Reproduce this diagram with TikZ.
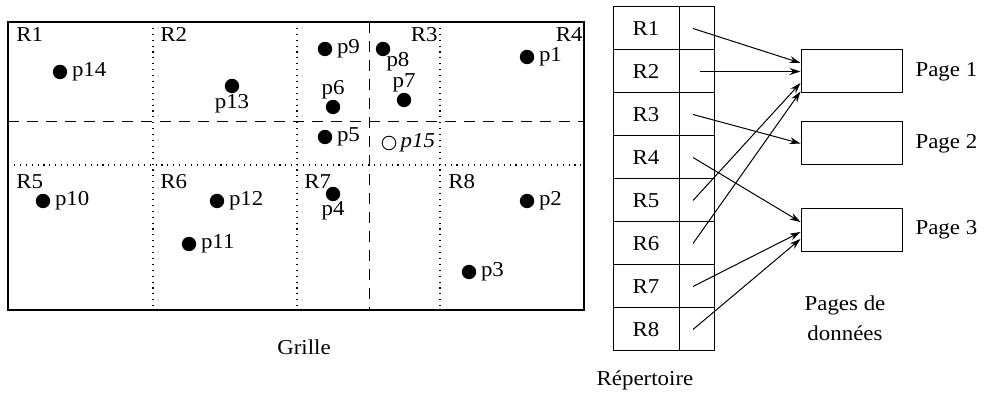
\documentclass[tikz,border=0pt]{standalone}
\usepackage{fontspec}
\setmainfont[FakeStretch=1.08]{Liberation Serif}
\usetikzlibrary{arrows.meta,positioning,calc}

\begin{document}
\begin{tikzpicture}[
    x=0.5pt, y=-0.5pt, >={Stealth[length=5.5pt,width=3.5pt]},
    font=\fontsize{10.6}{12}\selectfont,
    dot/.style={circle,fill,inner sep=0pt,minimum size=7.2pt},
    hollow/.style={circle,draw,line width=0.45pt,inner sep=0pt,minimum size=6.8pt},
    cell/.style={draw,line width=0.5pt,inner sep=0pt,outer sep=0pt,minimum height=21.5pt},
    page/.style={draw,line width=0.5pt,inner sep=0pt,minimum width=50.5pt,minimum height=21.5pt},
    dotline/.style={line width=0.55pt,dash pattern=on 0.55pt off 2.4pt},
    dashline/.style={line width=0.5pt,dash pattern=on 5.5pt off 4pt},
    ptr/.style={->,line width=0.5pt},
    every label/.style={inner sep=1pt},
    label distance=1pt
  ]
    \useasboundingbox (0,0) rectangle (984,394);

    % grille
    \draw[dotline] (8,165) -- (584,165);
    \foreach \gx in {153,297,440}
      \draw[dotline] (\gx,22) -- (\gx,310);
    \draw[dashline] (8,122) -- (584,122);
    \draw[dashline] (369,22) -- (369,310);
    \draw[line width=0.7pt] (8,22) rectangle (584,310);

    \node[anchor=base west,inner sep=0pt] (g1) at (16,42) {R1};
    \node[anchor=base west,inner sep=0pt] (g2) at (160,42) {R2};
    \node[anchor=base east,inner sep=0pt] (g3) at (438,42) {R3};
    \node[anchor=base east,inner sep=0pt] (g4) at (583,42) {R4};
    \node[anchor=base west,inner sep=0pt] (g5) at (16,189) {R5};
    \node[anchor=base west,inner sep=0pt] (g6) at (160,189) {R6};
    \node[anchor=base west,inner sep=0pt] (g7) at (304,189) {R7};
    \node[anchor=base west,inner sep=0pt] (g8) at (448,189) {R8};

    \node[dot,label=right:p1]  (p1)  at (527,57)  {};
    \node[dot,label=right:p2]  (p2)  at (527,201) {};
    \node[dot,label=right:p3]  (p3)  at (469,272) {};
    \node[dot,label={[label distance=-1pt]below:p4}] (p4) at (333,194) {};
    \node[dot,label=right:p5]  (p5)  at (325,137) {};
    \node[dot,label={[label distance=-1pt]above:p6}] (p6) at (333,107) {};
    \node[dot,label={[label distance=-1pt]above:p7}] (p7) at (404,100) {};
    \node[dot,label={[label distance=-3pt]below right:p8}] (p8) at (383,49) {};
    \node[dot,label=right:p9]  (p9)  at (325,49)  {};
    \node[dot,label=right:p10] (p10) at (43,201)  {};
    \node[dot,label=right:p11] (p11) at (189,244) {};
    \node[dot,label=right:p12] (p12) at (217,201) {};
    \node[dot,label={[label distance=-1pt]below:p13}] (p13) at (232,86) {};
    \node[dot,label=right:p14] (p14) at (60,72)   {};
    \node[hollow,label=right:\textit{p15}] (p15) at (389,143) {};

    \node (grille) at (304,347) {Grille};

    % repertoire
    \foreach \i in {1,...,8} {
      \node[cell,minimum width=33pt] (r\i) at (646,{7+43*(\i-0.5)}) {R\i};
      \node[cell,minimum width=17.5pt,right=0pt of r\i] (c\i) {};
    }
    \node (rep) at (645,380) {Répertoire};

    % pages
    \node[page] (pg1) at (851.5,71.5)  {};
    \node[page] (pg2) at (851.5,143.5) {};
    \node[page] (pg3) at (851.5,230)   {};
    \node[right=3pt of pg1] (t1) {Page 1};
    \node[right=3pt of pg2] (t2) {Page 2};
    \node[right=3pt of pg3] (t3) {Page 3};
    \node[align=center,font=\fontsize{10.6}{15}\selectfont] (donnees) at (845,318) {Pages de\\données};

    \draw[ptr] ([xshift=-1.75pt]c1.center) -- ($(pg1.west)+(0,-8.5)$);
    \draw[ptr] ([xshift=1.75pt]c2.center)  -- (pg1.west);
    \draw[ptr] ([xshift=-1.75pt]c5.center) -- ($(pg1.west)+(0,11.5)$);
    \draw[ptr] ([xshift=-1.75pt]c6.center) -- ($(pg1.west)+(0,20)$);
    \draw[ptr] ([xshift=-1.75pt]c3.center) -- (pg2.west);
    \draw[ptr] ([xshift=-1.75pt]c4.center) -- ($(pg3.west)+(0,-8)$);
    \draw[ptr] ([xshift=-1.75pt]c7.center) -- ($(pg3.west)+(0,2)$);
    \draw[ptr] ([xshift=-1.75pt]c8.center) -- ($(pg3.west)+(0,9)$);
  \end{tikzpicture}
\end{document}
